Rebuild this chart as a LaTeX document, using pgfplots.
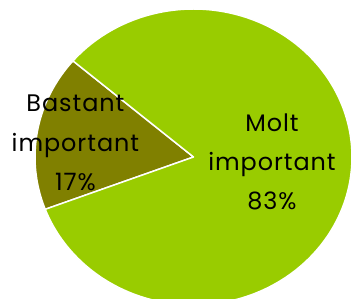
\documentclass[border=0pt]{standalone}
\usepackage{fontspec}
\setmainfont{Poppins}[LetterSpace=4]
\usepackage{pgfplots}
\pgfplotsset{compat=1.18}
\definecolor{molt}{HTML}{99CC00}
\definecolor{bastant}{HTML}{808000}
\begin{document}
\begin{tikzpicture}
\begin{axis}[
  width=353bp, height=299bp, scale only axis,
  hide axis,
  xmin=-1.2208, xmax=1.0063,
  ymin=-0.9595, ymax=1.0608,
  clip=true,
]
% Bastant important: 17% -> 61.2 deg, from 139.5 to 200.7
\addplot[fill=bastant, draw=white, line width=1.5bp, line join=round,
  domain=139.5:200.7, samples=80] ({cos(x)},{sin(x)}) -- (axis cs:0,0) -- cycle;
% Molt important: 83% -> 298.8 deg, from 200.7 to 499.5
\addplot[fill=molt, draw=white, line width=1.5bp, line join=round,
  domain=200.7:499.5, samples=200] ({cos(x)},{sin(x)}) -- (axis cs:0,0) -- cycle;
\node[align=center, font=\fontsize{24}{39.5}\selectfont, text=black]
  at (axis cs:-0.745,0.095) {Bastant\\important\\17\%};
\node[align=center, font=\fontsize{24}{39}\selectfont, text=black]
  at (axis cs:0.495,-0.034) {Molt\\important\\83\%};
\end{axis}
\pgfresetboundingbox
\useasboundingbox (current axis.south west) rectangle (current axis.north east);
\end{tikzpicture}
\end{document}
